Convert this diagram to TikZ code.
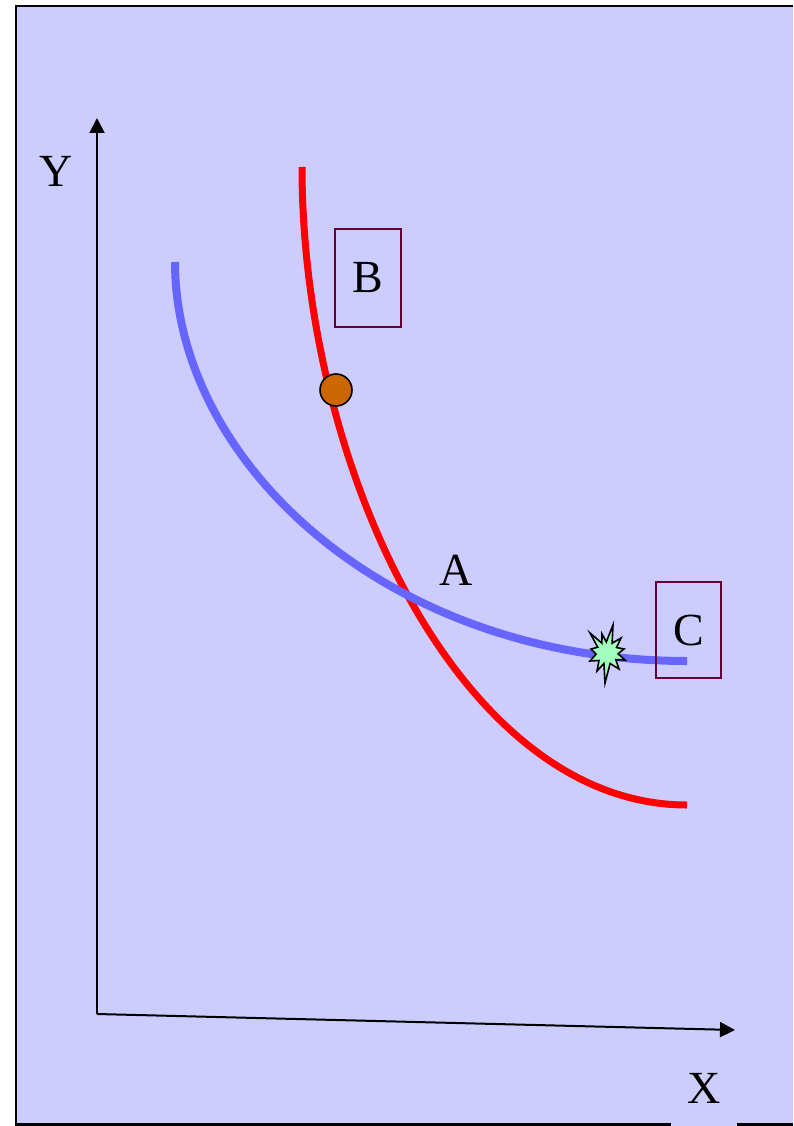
\documentclass[tikz,border=0pt]{standalone}
\usepackage{fontspec}
\setmainfont{Liberation Serif}
\usetikzlibrary{arrows.meta}
\definecolor{bgc}{RGB}{204,204,255}
\definecolor{bluec}{RGB}{102,102,255}
\definecolor{boxc}{RGB}{102,0,51}
\definecolor{orangec}{RGB}{204,102,0}
\definecolor{greenc}{RGB}{160,255,190}
\tikzset{
  frame/.style={line width=2.6pt, black},
  axis/.style={line width=2pt, black, -{Triangle[length=15pt,width=15pt]}},
  lbl/.style={inner sep=0pt, font=\fontsize{46}{50}\selectfont},
  labelbox/.style={draw=boxc, line width=2pt, inner sep=0pt, font=\fontsize{46}{50}\selectfont},
  redcurve/.style={red, line width=7pt},
  bluecurve/.style={bluec, line width=8pt},
}
\begin{document}
\begin{tikzpicture}[x=1pt,y=-1pt]
\useasboundingbox (0,0) rectangle (793,1126);
\fill[white] (0,0) rectangle (793,1126);
\fill[bgc] (15,5) rectangle (793,1126);
% frame
\draw[frame] (793,6) -- (16,6) -- (16,1124.7) -- (671,1124.7);
\draw[frame] (737,1124.7) -- (793,1124.7);
% axes
\coordinate (O) at (97,1014);
\coordinate (Ytip) at (97,118);
\coordinate (Xtip) at (735,1030);
\draw[axis] (O) -- (Ytip);
\draw[axis] (O) -- (Xtip);
\node[lbl] (Ylab) at (56,171) {Y};
\node[lbl] (Xlab) at (704,1088) {X};
% curves
\coordinate (r0) at (302,167);
\coordinate (r3) at (687,805);
\draw[redcurve] (r0) .. controls (302,467) and (460,805) .. (r3);
\coordinate (b0) at (175,262);
\coordinate (b3) at (687,661);
\draw[bluecurve] (b0) .. controls (175,462) and (387,661) .. (b3);
% point markers
\node[circle, draw=black, line width=1.6pt, fill=orangec, minimum size=32pt, inner sep=0pt] (dot) at (336,390) {};
\begin{scope}[shift={(607,653)}]
\draw[fill=greenc, line width=1.6pt, line join=miter, miter limit=20]
  (6,-28) -- (5.1,-9.8) -- (14,-15) -- (9.5,-5.5) -- (17,-4) -- (11,0.8)
  -- (18,7) -- (8.8,6.6) -- (12,16) -- (3.1,10.5) -- (-2,30) -- (-3.1,10.5)
  -- (-10,18) -- (-8,7.5) -- (-17,8) -- (-10.9,1.1) -- (-16,-4) -- (-9.3,-5.8)
  -- (-17,-20) -- (-5.1,-9.8) -- (-5,-19) -- (-0.7,-11) -- cycle;
\end{scope}
% labels
\node[labelbox, minimum width=66pt, minimum height=98pt] (B) at (368,278) {B};
\node[labelbox, minimum width=65pt, minimum height=96pt] (C) at (688.5,630) {C};
\node[lbl] (A) at (456,570) {A};
\end{tikzpicture}
\end{document}
